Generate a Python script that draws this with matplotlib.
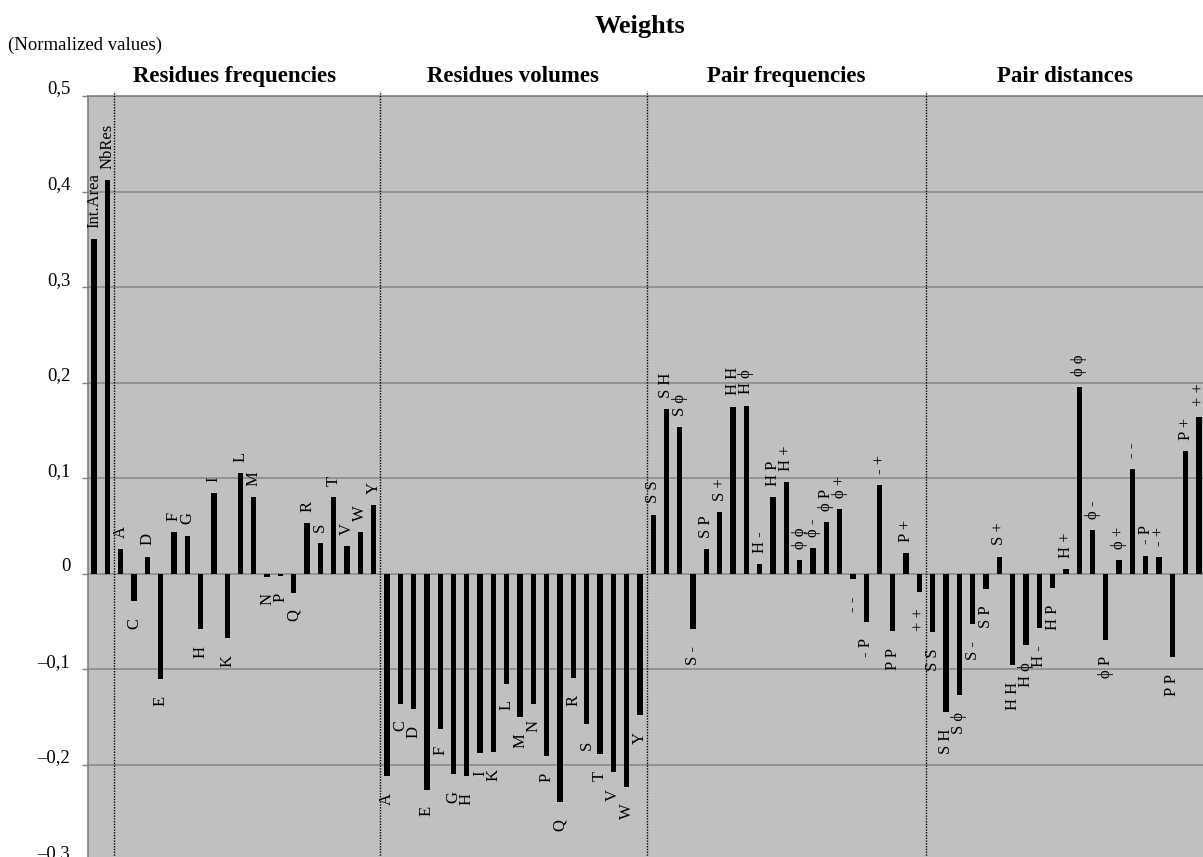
import matplotlib.pyplot as plt
import matplotlib.transforms as mtransforms
import numpy as np

plt.rcParams['font.family'] = ['Liberation Serif', 'DejaVu Serif']

# data
res_freq_labels = ['Int.Area', 'NbRes', 'A', 'C', 'D', 'E', 'F', 'G', 'H', 'I', 'K',
                   'L', 'M', 'N', 'P', 'Q', 'R', 'S', 'T', 'V', 'W', 'Y']
res_freq_values = [0.350, 0.412, 0.026, -0.029, 0.018, -0.110, 0.044, 0.040, -0.058, 0.084, -0.067,
                   0.105, 0.080, -0.003, -0.002, -0.020, 0.053, 0.032, 0.080, 0.029, 0.044, 0.072]

res_vol_labels = ['A', 'C', 'D', 'E', 'F', 'G', 'H', 'I', 'K', 'L',
                  'M', 'N', 'P', 'Q', 'R', 'S', 'T', 'V', 'W', 'Y']
res_vol_values = [-0.212, -0.136, -0.142, -0.226, -0.163, -0.210, -0.212, -0.188, -0.187, -0.115,
                  -0.150, -0.136, -0.191, -0.239, -0.109, -0.157, -0.189, -0.208, -0.223, -0.148]

pair_labels = ['S S', 'S H', 'S ϕ', 'S -', 'S P', 'S +', 'H H', 'H ϕ', 'H -', 'H P', 'H +',
               'ϕ ϕ', 'ϕ -', 'ϕ P', 'ϕ +', '- -', '- P', '- +', 'P P', 'P +', '+ +']
pair_freq_values = [0.062, 0.172, 0.154, -0.058, 0.026, 0.065, 0.175, 0.176, 0.010, 0.080, 0.096,
                    0.014, 0.027, 0.054, 0.068, -0.006, -0.050, 0.093, -0.060, 0.022, -0.019]
pair_dist_values = [-0.061, -0.145, -0.127, -0.053, -0.016, 0.018, -0.096, -0.075, -0.057, -0.015, 0.005,
                    0.195, 0.046, -0.069, 0.014, 0.110, 0.019, 0.017, -0.087, 0.128, 0.164]

group_titles = ['Residues frequencies', 'Residues volumes', 'Pair frequencies', 'Pair distances']
y_ticks = [-0.3, -0.2, -0.1, 0, 0.1, 0.2, 0.3, 0.4, 0.5]
y_tick_labels = ['–0,3', '–0,2', '–0,1', '0', '0,1', '0,2', '0,3', '0,4', '0,5']

labels = res_freq_labels + res_vol_labels + pair_labels + pair_labels
values = res_freq_values + res_vol_values + pair_freq_values + pair_dist_values
x = np.arange(len(values))

# separators between the groups
n1 = len(res_freq_labels)
n2 = n1 + len(res_vol_labels)
n3 = n2 + len(pair_labels)
seps = [1.5, n1 - 0.5, n2 - 0.5, n3 - 0.5]

fig = plt.figure(figsize=(12.03, 8.57), dpi=100)
ax = fig.add_axes([0.0732, -0.0039, 0.9268, 0.8918])
ax.set_facecolor('#c0c0c0')

xlim = (-0.45, len(values) - 1 + 0.3)
ax.set_xlim(*xlim)
ax.set_ylim(-0.3, 0.5)

ax.yaxis.grid(True, color='#8a8a8a', linewidth=1.2)
ax.set_axisbelow(True)

ax.bar(x, values, width=0.4, color='black', zorder=3)

for xi, v, lab in zip(x, values, labels):
    if v >= 0:
        ax.annotate(lab, (xi, v), xytext=(0, 8), textcoords='offset points',
                    rotation=90, ha='center', va='bottom', fontsize=12)
    else:
        ax.annotate(lab, (xi, v), xytext=(0, -12), textcoords='offset points',
                    rotation=90, ha='center', va='top', fontsize=12)

for s in seps:
    ax.axvline(s, ymin=0, ymax=1.007, color='black', linestyle=(0, (1, 1)),
               linewidth=1, clip_on=False, zorder=4)

# group titles
bounds = [xlim[0], seps[1], seps[2], seps[3], xlim[1]]
trans = mtransforms.blended_transform_factory(ax.transData, ax.transAxes)
for i, t in enumerate(group_titles):
    ax.text((bounds[i] + bounds[i + 1]) / 2, 1.025, t, transform=trans,
            ha='center', va='center', fontsize=16.5, fontweight='bold')

ax.set_xticks([])
ax.set_yticks(y_ticks)
ax.set_yticklabels(y_tick_labels, fontsize=13.5)
ax.tick_params(axis='y', direction='out', length=4.3, width=1, color='#808080', pad=8.5)
offset = mtransforms.ScaledTranslation(0, 6.5 / 72, fig.dpi_scale_trans)
for lab in ax.get_yticklabels():
    lab.set_transform(lab.get_transform() + offset)

for sp in ['right', 'bottom']:
    ax.spines[sp].set_visible(False)
for sp in ['left', 'top']:
    ax.spines[sp].set_color('#808080')
    ax.spines[sp].set_linewidth(1.2)

fig.text(0.532, 1 - 26 / 857, 'Weights', ha='center', va='center',
         fontsize=19, fontweight='bold')
fig.text(8 / 1203, 1 - 45 / 857, '(Normalized values)', ha='left', va='center', fontsize=13.5)

fig.savefig('out.png', dpi=100)
